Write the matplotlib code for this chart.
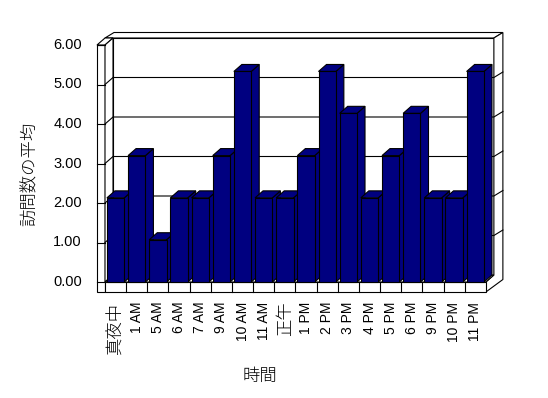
import numpy as np
import matplotlib.pyplot as plt
from matplotlib.patches import Polygon, Rectangle

plt.rcParams['font.family'] = ['Liberation Sans', 'Noto Sans CJK JP', 'DejaVu Sans']

# --- dane ---
hours = ["真夜中", "1 AM", "5 AM", "6 AM", "7 AM", "9 AM", "10 AM", "11 AM", "正午",
         "1 PM", "2 PM", "3 PM", "4 PM", "5 PM", "6 PM", "9 PM", "10 PM", "11 PM"]
avg_visits = [2.13, 3.20, 1.07, 2.13, 2.13, 3.20, 5.33, 2.13, 2.13,
              3.20, 5.33, 4.27, 2.13, 3.20, 4.27, 2.13, 2.13, 5.33]
y_ticks = [0, 1, 2, 3, 4, 5, 6]

navy = "#000080"
lw = 0.8

# geometria pudełka 3D (w pikselach) -> jednostki danych
cat_px = 21.16   # szerokość kategorii
unit_px = 39.5   # 1.00 na osi Y
x0_px, y0_px = 105, 282
W, H = 548, 398

ddx, ddy = 8 / cat_px, 7 / unit_px        # głębokość wykresu
wtx, wty = 9 / cat_px, 5.5 / unit_px      # grubość tylnej ściany
lwx = 8 / cat_px                          # grubość lewej ściany
fl = 10 / unit_px                         # grubość podłogi

n = len(hours)
ymax = y_ticks[-1]

fig = plt.figure(figsize=(W / 100, H / 100), dpi=100)
ax = fig.add_axes([0, 0, 1, 1])
ax.set_xlim(-x0_px / cat_px, (W - x0_px) / cat_px)
ax.set_ylim(-(H - y0_px) / unit_px, y0_px / unit_px)
ax.axis("off")

wall = dict(facecolor="white", edgecolor="black", lw=lw, zorder=1)

# tylna ściana
ax.add_patch(Rectangle((ddx, ddy), n, ymax, **wall))
ax.add_patch(Polygon([(ddx - lwx, ymax + ddy), (ddx - lwx + wtx, ymax + ddy + wty),
                      (n + ddx + wtx, ymax + ddy + wty), (n + ddx, ymax + ddy)], **wall))
ax.add_patch(Polygon([(n + ddx, ymax + ddy), (n + ddx + wtx, ymax + ddy + wty),
                      (n + ddx + wtx, -fl + ddy + wty), (n, -fl), (n, 0), (n + ddx, ddy)], **wall))

# lewa ściana
ax.add_patch(Rectangle((-lwx, -fl), lwx, ymax + fl, **wall))
ax.add_patch(Polygon([(-lwx, ymax), (0, ymax), (ddx, ymax + ddy), (ddx - lwx, ymax + ddy)], **wall))
ax.add_patch(Polygon([(0, 0), (0, ymax), (ddx, ymax + ddy), (ddx, ddy)], **wall))

# podłoga
ax.add_patch(Rectangle((0, -fl), n, fl, **wall))
ax.add_patch(Polygon([(0, 0), (n, 0), (n + ddx, ddy), (ddx, ddy)], **wall))
for i in range(1, n):
    ax.plot([i, i], [-fl, 0], color="black", lw=lw, zorder=2)

# linie siatki i znaczniki
for v in y_ticks:
    ax.plot([-lwx, 0], [v, v], color="black", lw=lw, zorder=2)
    if 0 < v < ymax:
        ax.plot([0, ddx, n + ddx, n + ddx + wtx], [v, v + ddy, v + ddy, v + ddy + wty],
                color="black", lw=lw, zorder=2)
    ax.text(-1.09, v, f"{v:.2f}", ha="right", va="center", fontsize=10.5)

# słupki
bw = 0.82
bars = ax.bar(np.arange(n) + 0.5, avg_visits, width=bw, color=navy,
              edgecolor="black", lw=lw)
for i, (bar, v) in enumerate(zip(bars, avg_visits)):
    z = 10 + 3 * i
    xl = i + 0.5 - bw / 2
    xr = i + 0.5 + bw / 2
    ax.add_patch(Polygon([(xr, 0), (xr, v), (xr + ddx, v + ddy), (xr + ddx, ddy)],
                         facecolor=navy, edgecolor="black", lw=lw, zorder=z))
    ax.add_patch(Polygon([(xl, v), (xr, v), (xr + ddx, v + ddy), (xl + ddx, v + ddy)],
                         facecolor=navy, edgecolor="black", lw=lw, zorder=z + 1))
    bar.set_zorder(z + 2)

# etykiety osi X
for i, lab in enumerate(hours):
    cjk = not lab[0].isdigit()
    ax.text(i + 0.5, -0.5, lab, rotation=90, ha="center", va="top",
            fontsize=12.5 if cjk else 10, fontweight="light" if cjk else "normal")

fig.text(30 / W, 1 - 174 / H, "訪問数の平均", rotation=90, ha="center", va="center",
         fontsize=12.5, fontweight="light")
fig.text(259.5 / W, 1 - 376 / H, "時間", ha="center", va="center",
         fontsize=12.5, fontweight="light")

fig.savefig("out.png", dpi=100, facecolor="white")
